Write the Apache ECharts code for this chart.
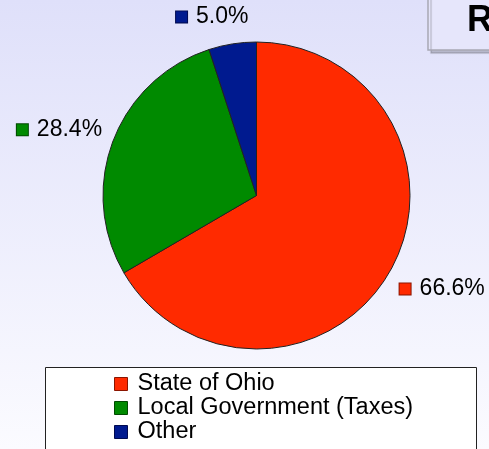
<!DOCTYPE html>
<html>
<head>
<meta charset="utf-8">
<script src="https://cdn.jsdelivr.net/npm/echarts@6/dist/echarts.min.js"></script>
<style>
html,body{margin:0;padding:0;width:489px;height:449px;overflow:hidden;}
#c{width:489px;height:449px;}
</style>
</head>
<body>
<div id="c"></div>
<script>
var categories = ['State of Ohio', 'Local Government (Taxes)', 'Other'];
var values = [66.6, 28.4, 5.0];
var colors = ['#ff2a00', '#008a00', '#001a8f'];
var borderColors = ['#8a1500', '#004a00', '#000a50'];
var titleText = 'R';

var chart = echarts.init(document.getElementById('c'));
var font = '"Liberation Sans", Arial, sans-serif';
var labelOffsets = [[5, 17], [-6, -11], [21, -27]];

var data = categories.map(function (n, i) {
  return {
    name: n, value: values[i],
    itemStyle: { color: colors[i] },
    label: {
      rich: {
        sq: { width: 11, height: 11, backgroundColor: colors[i], borderColor: borderColors[i], borderWidth: 1 },
        t: { fontSize: 23, fontFamily: font, color: '#000', padding: [0, 0, 0, 9] }
      }
    }
  };
});

chart.setOption({
  animation: false,
  graphic: [
    { type: 'rect', z: -10, silent: true, shape: { x: 0, y: 0, width: 489, height: 449 },
      style: { fill: { type: 'linear', x: 0, y: 0, x2: 0, y2: 1, colorStops: [
        { offset: 0, color: '#dfe0fa' }, { offset: 1, color: '#fbfbff' }] } } },
    { type: 'rect', z: -5, shape: { x: 428, y: -10, width: 120, height: 60 },
      style: { fill: '#e6e6fb', stroke: '#a8a8b4', lineWidth: 1.5,
        shadowColor: 'rgba(0,0,0,0.18)', shadowOffsetX: 3, shadowOffsetY: 3, shadowBlur: 1 } },
    { type: 'text', z: -4, style: { x: 467, y: 21, text: titleText, fill: '#000',
        font: 'bold 36px ' + font, verticalAlign: 'middle', align: 'left' } },
    { type: 'rect', z: -5, shape: { x: 45.5, y: 367.5, width: 431, height: 100 },
      style: { fill: '#ffffff', stroke: '#222', lineWidth: 1 } }
  ],
  legend: {
    orient: 'vertical', left: 114, top: 372, height: 120, padding: 0,
    itemWidth: 13, itemHeight: 13, itemGap: 0, icon: 'rect',
    data: categories.map(function (n, i) {
      return { name: n, itemStyle: { color: colors[i], borderColor: borderColors[i], borderWidth: 1 } };
    }),
    textStyle: { fontSize: 23.5, fontFamily: font, color: '#000', lineHeight: 23.5, padding: [0, 0, 0, 5] }
  },
  series: [{
    type: 'pie',
    center: [256.5, 195.5],
    radius: 153.5,
    startAngle: 90,
    clockwise: true,
    avoidLabelOverlap: false,
    itemStyle: { borderColor: '#222', borderWidth: 1 },
    label: {
      show: true, position: 'outside',
      formatter: function (p) { return '{sq|}{t|' + p.value.toFixed(1) + '%}'; }
    },
    labelLine: { show: false, length: 0, length2: 0 },
    labelLayout: function (p) {
      var o = labelOffsets[p.dataIndex];
      return { dx: o[0], dy: o[1] };
    },
    emphasis: { disabled: true },
    data: data
  }]
});
</script>
</body>
</html>
